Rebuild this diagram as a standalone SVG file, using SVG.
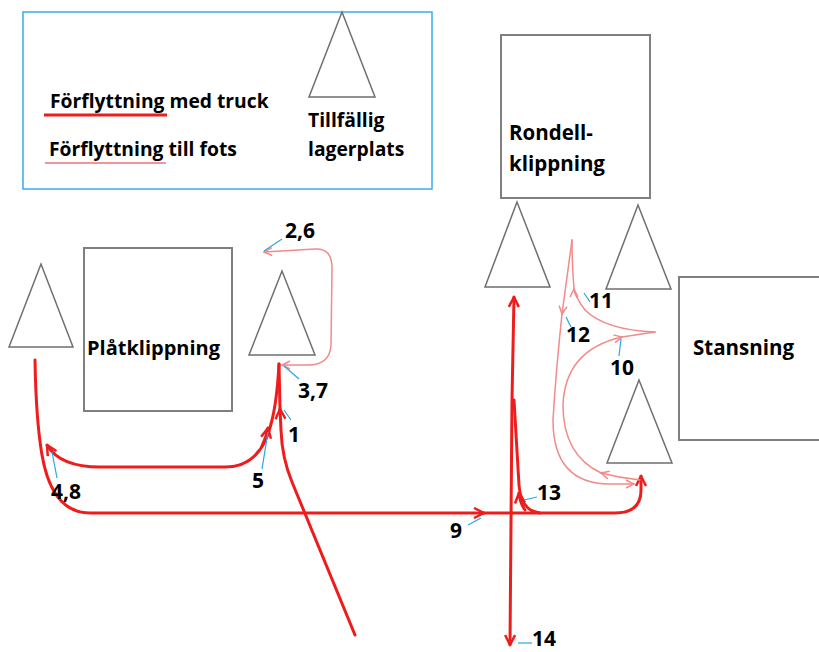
<svg xmlns="http://www.w3.org/2000/svg" width="819" height="652" viewBox="0 0 819 652">
<defs>
<style>
.box{fill:#fff;stroke:#7f7f7f;stroke-width:2}
.tri{fill:#fff;stroke:#6f6f6f;stroke-width:1.5}
.t{font-family:"Open Sans","Liberation Sans",sans-serif;font-weight:bold;fill:#000}
.lg{font-size:19.3px}
.n{font-size:21px}
.big{font-size:20.5px}
.truck{fill:none;stroke:#ee1c1c;stroke-width:3;stroke-linecap:round;stroke-linejoin:round}
.foot{fill:none;stroke:#f28a8a;stroke-width:1.5;stroke-linecap:round}
.lead{stroke:#2aa6e0;stroke-width:1.2;fill:none}
</style>
<marker id="ar" viewBox="0 0 12 12" refX="11" refY="6" markerWidth="12" markerHeight="12" markerUnits="userSpaceOnUse" orient="auto-start-reverse">
<polyline points="1,1 11,6 1,11" fill="none" stroke="#ee1c1c" stroke-width="2.5" stroke-linejoin="round"/>
</marker>
<marker id="ap" viewBox="0 0 10 10" refX="9" refY="5" markerWidth="10" markerHeight="10" markerUnits="userSpaceOnUse" orient="auto-start-reverse">
<polyline points="1,1 9,5 1,9" fill="none" stroke="#f28a8a" stroke-width="1.5"/>
</marker>
</defs>
<rect width="819" height="652" fill="#fff"/>

<g id="legend">
<rect x="23" y="12" width="409" height="177" fill="#fff" stroke="#3aacec" stroke-width="1.5"/>
<text class="t lg" x="50" y="108">Förflyttning med truck</text>
<line x1="44" y1="115" x2="167" y2="115" stroke="#ee1c1c" stroke-width="3"/>
<text class="t lg" x="49" y="156">Förflyttning till fots</text>
<line x1="45" y1="163" x2="166" y2="163" stroke="#f07070" stroke-width="1.5"/>
<polygon class="tri" points="342,12 309,97 375,97"/>
<text class="t lg" x="308" y="127">Tillfällig</text>
<text class="t lg" x="308" y="156">lagerplats</text>
</g>

<g id="platklippning">
<rect class="box" x="84" y="248" width="148" height="163"/>
<text class="t" x="87" y="355" font-size="20">Plåtklippning</text>
</g>
<g id="lager-left"><polygon class="tri" points="41,264 9,347 73,347"/></g>
<g id="lager-mid"><polygon class="tri" points="282,271 249,355 315,355"/></g>

<g id="rondell">
<rect class="box" x="501" y="35" width="149" height="163"/>
<text class="t big" x="509" y="140">Rondell-</text>
<text class="t big" x="509" y="171">klippning</text>
</g>
<g id="lager-rondell-left"><polygon class="tri" points="517,202 485,287 550,287"/></g>
<g id="lager-rondell-right"><polygon class="tri" points="638,205 606,289 671,289"/></g>

<g id="stansning">
<rect class="box" x="679" y="277" width="145" height="163"/>
<text class="t big" x="693" y="355">Stansning</text>
</g>
<g id="lager-stans"><polygon class="tri" points="639,380 607,463 672,463"/></g>

<g id="connectors">
<!-- truck paths -->
<path class="truck" d="M355,635 L292,482 Q282,458 281,430 L280,409" marker-end="url(#ar)"/>
<path class="truck" d="M280,409 L279,364"/>
<path class="truck" d="M279,364 Q277,400 272,420 Q262,467 225,467 L100,467 Q60,467 47,445" marker-end="url(#ar)"/>
<path class="truck" d="M262,446 Q266,438 268,428" marker-end="url(#ar)"/>
<path class="truck" d="M35,360 Q36,420 42,455 Q52,513 90,513 L484,513" marker-end="url(#ar)"/>
<path class="truck" d="M484,513 L615,513 Q641,513 641,490 L641,476" marker-end="url(#ar)"/>
<path class="truck" d="M510,645 L512,400 L514,297" marker-start="url(#ar)" marker-end="url(#ar)"/>
<path class="truck" d="M540,513 Q521,511 519,485 L514,400"/>
<path class="truck" d="M525,510 Q520,503 519,493" marker-end="url(#ar)"/>
<!-- foot paths -->
<path class="foot" d="M310,365 L282,365" marker-end="url(#ap)"/>
<path class="foot" d="M310,365 Q330,364 331,345 L332,268 Q332,248 315,249 L264,252" marker-end="url(#ap)"/>
<path class="foot" d="M572,240 L562,314" marker-end="url(#ap)"/>
<path class="foot" d="M562,314 Q556,370 553,420 Q553,484 610,484 L634,484" marker-end="url(#ap)"/>
<path class="foot" d="M655,332 Q605,330 585,310 Q574,295 574,289" marker-end="url(#ap)"/>
<path class="foot" d="M574,289 Q572,265 572,240"/>
<path class="foot" d="M640,480 Q620,478 601,473" marker-end="url(#ap)"/>
<path class="foot" d="M601,473 Q563,455 563,405 Q565,350 622,337" marker-end="url(#ap)"/>
<path class="foot" d="M622,337 L655,332"/>
<!-- leader lines -->
<line class="lead" x1="264" y1="251" x2="282" y2="239"/>
<line class="lead" x1="284" y1="366" x2="299" y2="379"/>
<line class="lead" x1="284" y1="410" x2="291" y2="420"/>
<line class="lead" x1="268" y1="432" x2="262" y2="469"/>
<line class="lead" x1="52" y1="452" x2="57" y2="478"/>
<line class="lead" x1="468" y1="525" x2="481" y2="518"/>
<line class="lead" x1="524" y1="500" x2="537" y2="497"/>
<line class="lead" x1="518" y1="643" x2="532" y2="643"/>
<line class="lead" x1="584" y1="293" x2="590" y2="302"/>
<line class="lead" x1="566" y1="317" x2="571" y2="327"/>
<line class="lead" x1="621" y1="339" x2="619" y2="356"/>
</g>

<g id="labels">
<text class="t n" x="285" y="238">2,6</text>
<text class="t n" x="298" y="398">3,7</text>
<text class="t n" x="288" y="442">1</text>
<text class="t n" x="252" y="488">5</text>
<text class="t n" x="51" y="499">4,8</text>
<text class="t n" x="450" y="538">9</text>
<text class="t n" x="537" y="500">13</text>
<text class="t n" x="532" y="646">14</text>
<text class="t n" x="589" y="308">11</text>
<text class="t n" x="566" y="342">12</text>
<text class="t n" x="610" y="375">10</text>
</g>
</svg>
